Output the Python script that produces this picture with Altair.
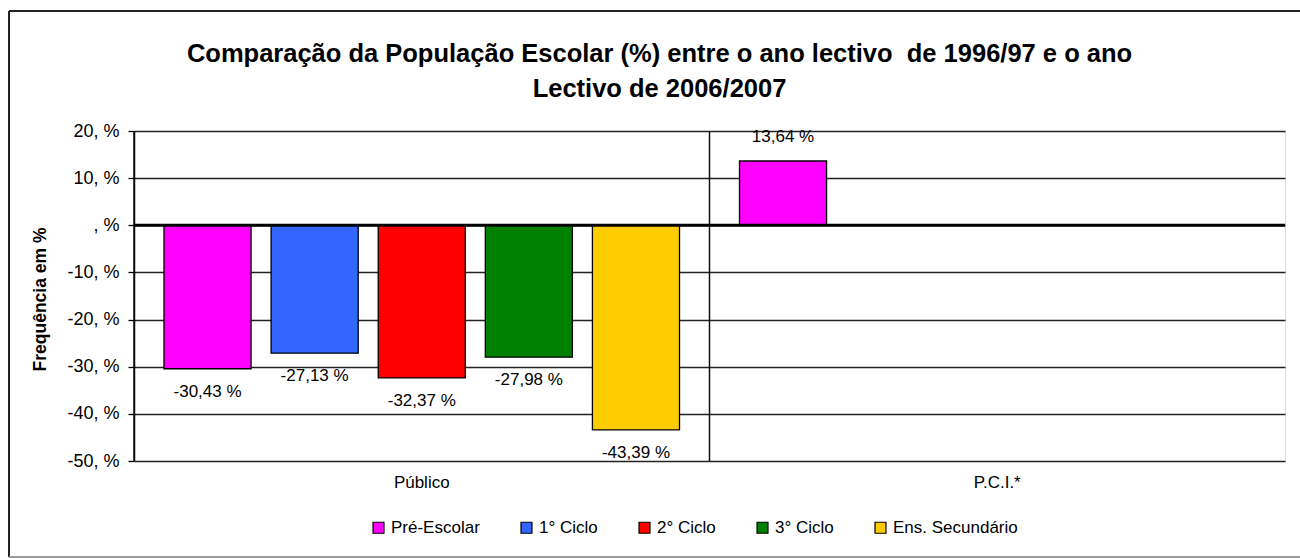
import altair as alt
import pandas as pd

categories = ["Público", "P.C.I.*"]
series = ["Pré-Escolar", "1° Ciclo", "2° Ciclo", "3° Ciclo", "Ens. Secundário"]
colors = ["#FF00FF", "#3366FF", "#FF0000", "#008000", "#FFCC00"]
values = {
    "Pré-Escolar": [-30.43, 13.64],
    "1° Ciclo": [-27.13, None],
    "2° Ciclo": [-32.37, None],
    "3° Ciclo": [-27.98, None],
    "Ens. Secundário": [-43.39, None],
}
y_ticks = [-50, -40, -30, -20, -10, 0, 10, 20]

rows = []
for s in series:
    for c, v in zip(categories, values[s]):
        if v is not None:
            rows.append({"cat": c, "serie": s, "v": v,
                         "lbl": f"{v:.2f}".replace(".", ",") + " %"})
df = pd.DataFrame(rows)
cat_df = pd.DataFrame({"cat": categories})

FONT = "Liberation Sans"

x_enc = alt.X("cat:N", sort=categories,
              scale=alt.Scale(domain=categories, paddingInner=0, paddingOuter=0),
              axis=alt.Axis(title=None, domain=False, ticks=False, labelAngle=0,
                            labelPadding=13, labelFontSize=17, labelColor="#000",
                            labelFont=FONT, grid=False))
xo_enc = alt.XOffset("serie:N", sort=series,
                     scale=alt.Scale(domain=series, paddingInner=0.187, paddingOuter=0.28))
y_scale = alt.Scale(domain=[-50, 20], nice=False, zero=False)

bars = alt.Chart(df).mark_bar(stroke="#000", strokeWidth=1.3).encode(
    x=x_enc,
    xOffset=xo_enc,
    y=alt.Y("v:Q", scale=y_scale,
            axis=alt.Axis(values=y_ticks, labelExpr="datum.value == 0 ? ', %' : datum.value + ', %'",
                          title="Frequência em %", titleFont=FONT, titleFontSize=17.5,
                          titleFontWeight="bold", titleX=-94, titleY=168, titleAngle=-90,
                          titleAlign="center", titleBaseline="middle", titleColor="#000",
                          labelFont=FONT, labelFontSize=18, labelColor="#000", labelPadding=9,
                          tickSize=6, tickColor="#000", tickWidth=1.3,
                          domainColor="#000", domainWidth=1.5,
                          grid=True, gridColor="#222", gridWidth=1.5)),
    y2=alt.datum(0),
    color=alt.Color("serie:N", sort=series,
                    scale=alt.Scale(domain=series, range=colors),
                    legend=alt.Legend(title=None, orient="none", direction="horizontal",
                                      legendX=236, legendY=388, symbolType="square",
                                      symbolSize=120, symbolStrokeColor="#000",
                                      symbolStrokeWidth=1.2, labelFont=FONT, labelFontSize=17,
                                      labelColor="#000", columnPadding=38, labelOffset=4)),
)

labels_neg = alt.Chart(df).transform_filter("datum.v < 0").mark_text(
    font=FONT, fontSize=17, color="#000", dy=23, baseline="middle"
).encode(x=alt.X("cat:N", sort=categories), xOffset=alt.XOffset("serie:N", sort=series),
         y=alt.Y("v:Q"), text="lbl:N")
labels_pos = alt.Chart(df).transform_filter("datum.v >= 0").mark_text(
    font=FONT, fontSize=17, color="#000", dy=-24, baseline="middle"
).encode(x=alt.X("cat:N", sort=categories), xOffset=alt.XOffset("serie:N", sort=series),
         y=alt.Y("v:Q"), text="lbl:N")

divider = alt.Chart(cat_df).mark_rule(color="#111", strokeWidth=1.5).encode(
    x=alt.X("cat:N", sort=categories, bandPosition=0),
    y=alt.value(0), y2=alt.value(330))

zero = alt.Chart(pd.DataFrame({"z": [0]})).mark_rule(color="#000", strokeWidth=3).encode(
    y=alt.Y("z:Q"))

frame_left = alt.Chart(cat_df).mark_rule(color="#222", strokeWidth=2).encode(
    x=alt.value(-125), y=alt.value(-120), y2=alt.value(426))
frame_top = alt.Chart(cat_df).mark_rule(color="#222", strokeWidth=2).encode(
    x=alt.value(-125), x2=alt.value(1200), y=alt.value(-120))
frame_bottom = alt.Chart(cat_df).mark_rule(color="#999", strokeWidth=2).encode(
    x=alt.value(-125), x2=alt.value(1200), y=alt.value(426))

chart = alt.layer(bars, divider, zero, labels_neg, labels_pos,
                  frame_left, frame_top, frame_bottom).properties(
    width=1151, height=330,
    title=alt.TitleParams(
        ["Comparação da População Escolar (%) entre o ano lectivo\u00a0 de 1996/97 e o ano",
         "Lectivo de 2006/2007"],
        font=FONT, fontSize=25.5, fontWeight="bold", color="#000", anchor="middle",
        baseline="alphabetic", dx=-50, dy=112, offset=0, lineHeight=35),
    autosize=alt.AutoSizeParams(type="none"),
    padding={"left": 134, "top": 131, "right": 15, "bottom": 97},
).configure_view(fill="#CCFFCC", stroke="#888", strokeWidth=2).configure(background="white")

chart.save("out.html", embed_options={"renderer": "svg", "actions": False})
